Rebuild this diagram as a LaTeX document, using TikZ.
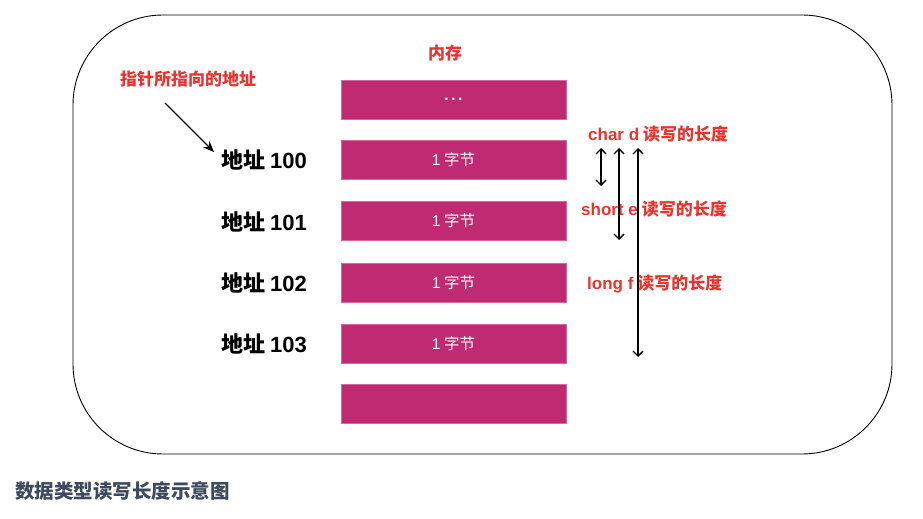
\documentclass[tikz,border=0pt]{standalone}
\usepackage{fontspec}
\setmainfont{Noto Sans CJK SC}
\newfontfamily\lat{Liberation Sans}[BoldFont={Liberation Sans Bold}]
\usetikzlibrary{arrows.meta}
\definecolor{barcol}{HTML}{C02A72}
\definecolor{redtxt}{HTML}{E8342E}
\definecolor{captxt}{HTML}{3D4A5C}
\tikzset{
  membar/.style={fill=barcol, draw=barcol!70!white, line width=0.6pt, minimum width=225pt, minimum height=39pt, inner sep=0pt, text=white, font=\fontsize{15.5}{15.5}\selectfont},
  addr/.style={font=\fontsize{22}{22}\selectfont\bfseries, text=black, inner sep=0pt, anchor=west},
  redlbl/.style={font=\fontsize{17}{17}\selectfont\bfseries, text=redtxt, inner sep=0pt},
  darr/.style={{Straight Barb[length=5pt,width=10pt]}-{Straight Barb[length=5pt,width=10pt]}, line width=1.3pt},
}
\begin{document}
\begin{tikzpicture}[x=1pt,y=-1pt]
\useasboundingbox (0,0) rectangle (923,519);
\draw[line width=0.9pt, rounded corners=90pt] (73,15) rectangle (892,454);
\node[membar] (b0) at (453.5,99.5) {\lat\bfseries .\,.\,.};
\node[membar] (b1) at (453.5,160) {{\lat 1} 字节};
\node[membar] (b2) at (453.5,221) {{\lat 1} 字节};
\node[membar] (b3) at (453.5,282.5) {{\lat 1} 字节};
\node[membar] (b4) at (453.5,343.5) {{\lat 1} 字节};
\node[membar] (b5) at (453.5,403.5) {};
\node[redlbl] (mem) at (445,53) {内存};
\node[addr] (a0) at (221,160) {地址 {\lat\bfseries 100}};
\node[addr] (a1) at (221,222) {地址 {\lat\bfseries 101}};
\node[addr] (a2) at (221,283) {地址 {\lat\bfseries 102}};
\node[addr] (a3) at (221,344) {地址 {\lat\bfseries 103}};
\node[redlbl, anchor=west] (ptr) at (120,79) {指针所指向的地址};
\coordinate (ps) at (165,103);
\coordinate (pe) at (214,152);
\draw[-{Stealth[length=11pt,width=9pt]}, line width=1.3pt] (ps) -- (pe);
\node[redlbl, anchor=west] (cd) at (588,134) {{\lat\bfseries char d} 读写的长度};
\node[redlbl, anchor=west] (se) at (581,209) {{\lat\bfseries short e} 读写的长度};
\node[redlbl, anchor=west] (lf) at (587,284) {{\lat\bfseries long f} 读写的长度};
\coordinate (c1t) at (601,148); \coordinate (c1b) at (601,186);
\coordinate (c2t) at (619,148); \coordinate (c2b) at (619,240);
\coordinate (c3t) at (638,148); \coordinate (c3b) at (638,357);
\draw[darr] (c1t) -- (c1b);
\draw[darr] (c2t) -- (c2b);
\draw[darr] (c3t) -- (c3b);
\node[font=\fontsize{19.5}{19.5}\selectfont\bfseries, text=captxt, anchor=west, inner sep=0pt] (cap) at (15,491) {数据类型读写长度示意图};
\end{tikzpicture}
\end{document}
